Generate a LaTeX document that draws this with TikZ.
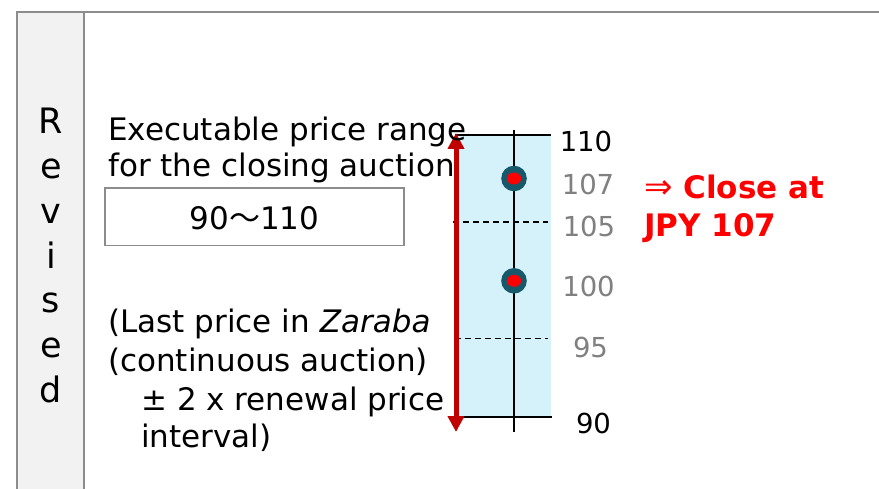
\documentclass[tikz,border=0pt]{standalone}
\usepackage{fontspec}
\setmainfont{DejaVu Sans}
\newfontfamily\cjk{Noto Sans CJK JP}
\usetikzlibrary{arrows.meta}
\definecolor{panelgray}{HTML}{F2F2F2}
\definecolor{linegray}{HTML}{8C8C8C}
\definecolor{numgray}{HTML}{808080}
\definecolor{bandblue}{HTML}{D5F1F9}
\definecolor{darkred}{HTML}{C00000}
\definecolor{dotteal}{HTML}{17596B}
\definecolor{brightred}{HTML}{FF0000}
\begin{document}
\begin{tikzpicture}[x=1pt,y=-1pt,
  txt/.style={inner sep=0pt, anchor=base west, font=\fontsize{31}{37}\selectfont},
  num/.style={inner sep=0pt, anchor=base, font=\fontsize{27.5}{33}\selectfont},
  revletter/.style={inner sep=0pt, anchor=base, font=\fontsize{35}{40}\selectfont},
  redtxt/.style={inner sep=0pt, anchor=base west, text=brightred, font=\bfseries\fontsize{31}{37}\selectfont},
  gridline/.style={black, line width=1.3pt},
  dashline/.style={black, line width=1.7pt, dash pattern=on 6pt off 4pt},
  outerdot/.style={fill=dotteal},
  innerdot/.style={fill=brightred}]
\useasboundingbox (0,0) rectangle (879,489);
\fill[white] (0,0) rectangle (879,489);
% left panel
\fill[panelgray] (17,12) rectangle (84,489);
\draw[linegray, line width=2pt] (17,489) -- (17,12) -- (879,12);
\draw[linegray, line width=2pt] (84,12) -- (84,489);
\foreach \c [count=\i] in {R,e,v,i,s,e,d}
  \node[revletter] (rev\i) at (51,{134+44.67*(\i-1)}) {\c};
% band
\fill[bandblue] (456,135) rectangle (551,417);
\coordinate (ttopL) at (455,135);
\coordinate (ttopR) at (551,135);
\coordinate (tbotL) at (458,417);
\coordinate (tbotR) at (552,417);
\draw[gridline, line width=1.8pt] (ttopL) -- (ttopR);
\draw[gridline, line width=1.8pt] (tbotL) -- (tbotR);
\coordinate (vtop) at (514,130);
\coordinate (vbot) at (514,432);
\draw[gridline] (vtop) -- (vbot);
\coordinate (d1L) at (453,222);
\coordinate (d1R) at (548,222);
\coordinate (d2L) at (455,338.5);
\coordinate (d2R) at (548,338.5);
\draw[dashline] (d1L) -- (d1R);
\draw[dashline] (d2L) -- (d2R);
% red double arrow
\coordinate (atop) at (456,133);
\coordinate (abot) at (456,432);
\draw[darkred, line width=5pt, {Triangle[width=16pt,length=16pt]}-{Triangle[width=16pt,length=16pt]}] (atop) -- (abot);
% dots
\fill[outerdot] (514,178.5) circle[radius=12.8pt];
\fill[innerdot] (514,178.5) ellipse[x radius=7.2pt, y radius=6pt];
\fill[outerdot] (514,280.8) circle[radius=12.8pt];
\fill[innerdot] (514,280.8) ellipse[x radius=7.2pt, y radius=6pt];
% numbers
\node[num] (n110) at (586,152) {110};
\node[num, text=numgray] (n107) at (588,195) {107};
\node[num, text=numgray] (n105) at (589,237) {105};
\node[num, text=numgray] (n100) at (588.5,297) {100};
\node[num, text=numgray] (n95) at (590.5,358) {95};
\node[num] (n90) at (593.5,433) {90};
% red result
\node[redtxt] (res1) at (644,199) {{\mdseries\fontsize{34}{37}\selectfont ⇒} Close at};
\node[redtxt] (res2) at (644,237) {JPY 107};
% left texts
\node[txt] (l1) at (108,141) {Executable price range};
\node[txt] (l2) at (108,177) {for the closing auction};
\node[draw=linegray, line width=1.5pt, inner sep=0pt, minimum width=299pt, minimum height=57.7pt,
      text height=26pt, text depth=0pt, font=\fontsize{31}{37}\selectfont] (range) at (254.5,216.9) {90{\cjk ～}110};
\node[txt] (l3) at (108,333) {(Last price in \textit{Zaraba}};
\node[txt] (l4) at (108,371.5) {(continuous auction)};
\node[txt] (l5) at (141,410) {± 2 x renewal price};
\node[txt] (l6) at (141,447) {interval)};
\end{tikzpicture}
\end{document}
